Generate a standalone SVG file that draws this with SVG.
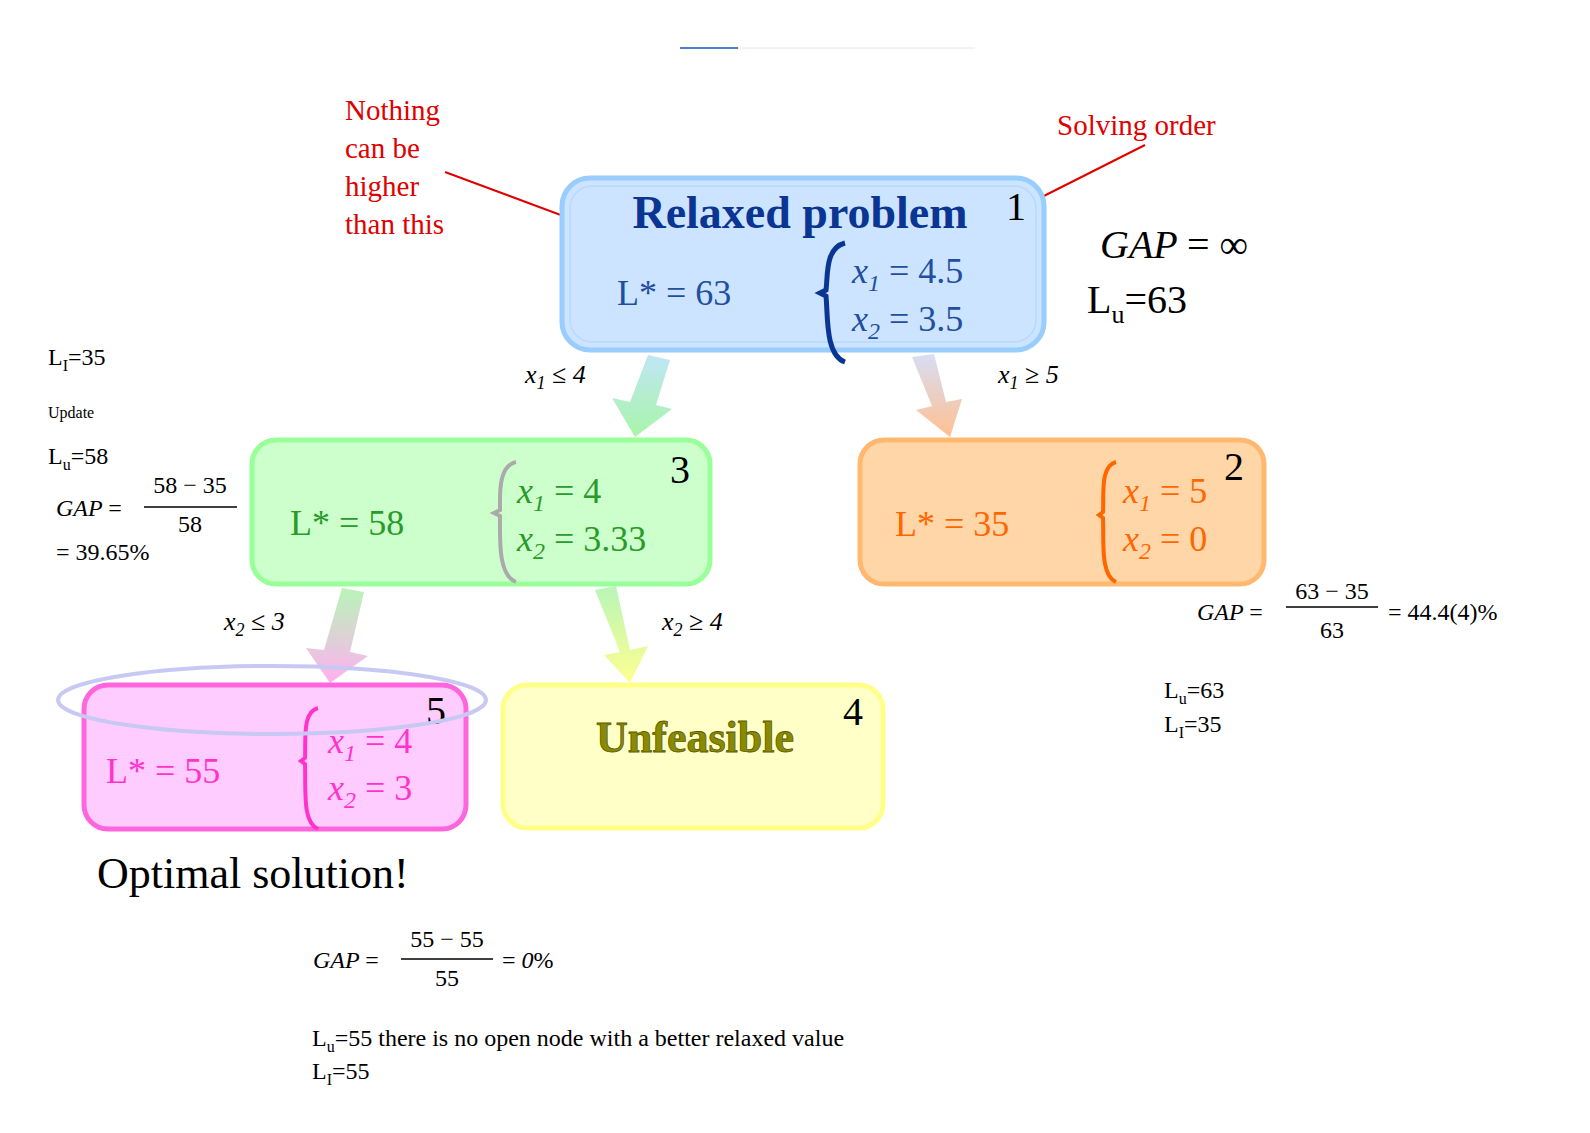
<svg xmlns="http://www.w3.org/2000/svg" width="1590" height="1133" viewBox="0 0 1590 1133">
<style>
.s{font-family:"Liberation Serif","DejaVu Serif",serif}
.m{font-family:"Liberation Serif","DejaVu Serif",serif;font-style:italic}
.box{stroke-width:5}
.red{fill:#e00000;font-size:29px}
.ann{font-size:24px;fill:#000}
</style>
<defs>
<marker id="ah" viewBox="0 0 10 10" refX="9" refY="5" markerWidth="7" markerHeight="7" orient="auto"><path d="M0,0L10,5L0,10z" fill="#e00000"/></marker>
<linearGradient id="g13" x1="0" y1="0" x2="0" y2="1"><stop offset="0" stop-color="#bfe6f5"/><stop offset="1" stop-color="#a8f5a8"/></linearGradient>
<linearGradient id="g12" x1="0" y1="0" x2="0" y2="1"><stop offset="0" stop-color="#d8ddf5"/><stop offset="1" stop-color="#ffc090"/></linearGradient>
<linearGradient id="g35" x1="0" y1="0" x2="0" y2="1"><stop offset="0" stop-color="#b8f5b8"/><stop offset="1" stop-color="#ffb0f0"/></linearGradient>
<linearGradient id="g34" x1="0" y1="0" x2="0" y2="1"><stop offset="0" stop-color="#b8f5b8"/><stop offset="1" stop-color="#ffff90"/></linearGradient>
</defs>
<line x1="680" y1="48" x2="738" y2="48" stroke="#4a7fd0" stroke-width="2"/>
<line x1="738" y1="48" x2="975" y2="48" stroke="#e6e6e6" stroke-width="1"/>

<g id="connectors">
<polygon points="648,355 670,360 656,405 672,409 635,437 612,398 630,402" fill="url(#g13)"/>
<polygon points="912,357 934,354 946,402 962,399 950,437 916,410 932,406" fill="url(#g12)"/>
<polygon points="342,588 364,592 350,652 368,656 330,683 306,648 324,650" fill="url(#g35)"/>
<polygon points="595,590 616,586 630,650 648,646 630,683 604,655 620,652" fill="url(#g34)"/>
<text class="m" x="525" y="383" font-size="26">x<tspan font-size="18" dy="6">1</tspan><tspan dy="-6"> ≤ 4</tspan></text>
<text class="m" x="998" y="383" font-size="26">x<tspan font-size="18" dy="6">1</tspan><tspan dy="-6"> ≥ 5</tspan></text>
<text class="m" x="224" y="630" font-size="26">x<tspan font-size="18" dy="6">2</tspan><tspan dy="-6"> ≤ 3</tspan></text>
<text class="m" x="662" y="630" font-size="26">x<tspan font-size="18" dy="6">2</tspan><tspan dy="-6"> ≥ 4</tspan></text>
<line x1="445" y1="172" x2="703" y2="268" stroke="#e00000" stroke-width="2" marker-end="url(#ah)"/>
<line x1="1145" y1="145" x2="1022" y2="207" stroke="#e00000" stroke-width="2" marker-end="url(#ah)"/>
</g>

<g id="node1">
<rect class="box" x="562" y="178" width="482" height="172" rx="28" fill="#cce4ff" stroke="#99ccff"/>
<rect x="570" y="186" width="466" height="156" rx="22" fill="none" stroke="#b8d8ff" stroke-width="1.5"/>
<text class="s" x="800" y="228" text-anchor="middle" font-size="46" font-weight="bold" fill="#0a3592">Relaxed problem</text>
<text class="s" x="1006" y="220" font-size="40">1</text>
<text class="s" x="617" y="305" font-size="36" fill="#1f4fa0">L*  = 63</text>
<path d="M845,243 C825,248 828,275 826,290 L820,293 L826,296 C828,315 825,355 845,362" fill="none" stroke="#0a3592" stroke-width="5"/>
<text class="m" x="852" y="283" font-size="36" fill="#1f4fa0">x<tspan font-size="24" dy="8">1</tspan><tspan dy="-8" font-style="normal"> = 4.5</tspan></text>
<text class="m" x="852" y="331" font-size="36" fill="#1f4fa0">x<tspan font-size="24" dy="8">2</tspan><tspan dy="-8" font-style="normal"> = 3.5</tspan></text>
</g>

<g id="node3">
<rect class="box" x="252" y="440" width="458" height="144" rx="24" fill="#ccffcc" stroke="#99ff99"/>
<text class="s" x="670" y="483" font-size="40">3</text>
<text class="s" x="290" y="535" font-size="36" fill="#2a9a2a">L*  = 58</text>
<path d="M516,462 C498,466 500,495 500,510 L494,513 L500,516 C500,540 498,575 516,582" fill="none" stroke="#aaaaaa" stroke-width="4"/>
<text class="m" x="517" y="503" font-size="36" fill="#2a9a2a">x<tspan font-size="24" dy="8">1</tspan><tspan dy="-8" font-style="normal"> = 4</tspan></text>
<text class="m" x="517" y="551" font-size="36" fill="#2a9a2a">x<tspan font-size="24" dy="8">2</tspan><tspan dy="-8" font-style="normal"> = 3.33</tspan></text>
</g>

<g id="node2">
<rect class="box" x="860" y="440" width="404" height="144" rx="24" fill="#ffd6a8" stroke="#ffb870"/>
<text class="s" x="1224" y="480" font-size="40">2</text>
<text class="s" x="895" y="536" font-size="36" fill="#ff6600">L*  = 35</text>
<path d="M1116,462 C1100,466 1104,495 1103,512 L1099,515 L1103,518 C1104,540 1100,575 1116,582" fill="none" stroke="#ff6600" stroke-width="4"/>
<text class="m" x="1123" y="503" font-size="36" fill="#ff6600">x<tspan font-size="24" dy="8">1</tspan><tspan dy="-8" font-style="normal"> = 5</tspan></text>
<text class="m" x="1123" y="551" font-size="36" fill="#ff6600">x<tspan font-size="24" dy="8">2</tspan><tspan dy="-8" font-style="normal"> = 0</tspan></text>
</g>

<g id="node5">
<rect class="box" x="84" y="685" width="382" height="144" rx="24" fill="#ffccff" stroke="#ff66dd"/>
<text class="s" x="426" y="724" font-size="40">5</text>
<text class="s" x="106" y="783" font-size="36" fill="#ff33cc">L*  = 55</text>
<path d="M318,708 C302,712 306,740 305,758 L301,761 L305,764 C306,790 302,822 318,829" fill="none" stroke="#ff33cc" stroke-width="4"/>
<text class="m" x="328" y="753" font-size="36" fill="#ff33cc">x<tspan font-size="24" dy="8">1</tspan><tspan dy="-8" font-style="normal"> = 4</tspan></text>
<text class="m" x="328" y="800" font-size="36" fill="#ff33cc">x<tspan font-size="24" dy="8">2</tspan><tspan dy="-8" font-style="normal"> = 3</tspan></text>
<ellipse cx="272" cy="700" rx="214" ry="34" fill="none" stroke="#c8c8f5" stroke-width="4"/>
</g>

<g id="node4">
<rect class="box" x="503" y="685" width="380" height="143" rx="24" fill="#ffffc8" stroke="#ffff88"/>
<text class="s" x="843" y="725" font-size="40">4</text>
<text class="s" x="695" y="752" text-anchor="middle" font-size="44" font-weight="bold" fill="#8a8a00" stroke="#5a5a00" stroke-width="0.8">Unfeasible</text>
</g>

<g id="annotations">
<text class="s red" x="345" y="120">Nothing</text>
<text class="s red" x="345" y="158">can be</text>
<text class="s red" x="345" y="196">higher</text>
<text class="s red" x="345" y="234">than this</text>
<text class="s red" x="1057" y="135">Solving order</text>
<text class="m" x="1100" y="258" font-size="40">GAP <tspan font-style="normal">= ∞</tspan></text>
<text class="s" x="1087" y="313" font-size="40">L<tspan font-size="26" dy="10">u</tspan><tspan dy="-10">=63</tspan></text>

<text class="s ann" x="48" y="365">L<tspan font-size="16" dy="6">I</tspan><tspan dy="-6">=35</tspan></text>
<text class="s" x="48" y="418" font-size="16">Update</text>
<text class="s ann" x="48" y="464">L<tspan font-size="16" dy="6">u</tspan><tspan dy="-6">=58</tspan></text>
<text class="m ann" x="56" y="516">GAP <tspan font-style="normal">=</tspan></text>
<text class="s ann" x="190" y="493" text-anchor="middle">58 − 35</text>
<line x1="144" y1="507" x2="237" y2="507" stroke="#000" stroke-width="1.5"/>
<text class="s ann" x="190" y="532" text-anchor="middle">58</text>
<text class="s ann" x="56" y="560">= 39.65%</text>

<text class="m ann" x="1197" y="620">GAP <tspan font-style="normal">=</tspan></text>
<text class="s ann" x="1332" y="599" text-anchor="middle">63 − 35</text>
<line x1="1286" y1="607" x2="1378" y2="607" stroke="#000" stroke-width="1.5"/>
<text class="s ann" x="1332" y="638" text-anchor="middle">63</text>
<text class="s ann" x="1388" y="620">= 44.4(4)%</text>
<text class="s ann" x="1164" y="698">L<tspan font-size="16" dy="6">u</tspan><tspan dy="-6">=63</tspan></text>
<text class="s ann" x="1164" y="732">L<tspan font-size="16" dy="6">I</tspan><tspan dy="-6">=35</tspan></text>

<text class="s" x="97" y="888" font-size="44">Optimal solution!</text>
<text class="m ann" x="313" y="968">GAP <tspan font-style="normal">=</tspan></text>
<text class="s ann" x="447" y="947" text-anchor="middle">55 − 55</text>
<line x1="401" y1="959" x2="493" y2="959" stroke="#000" stroke-width="1.5"/>
<text class="s ann" x="447" y="986" text-anchor="middle">55</text>
<text class="s ann" x="502" y="968">= <tspan font-style="italic">0</tspan>%</text>
<text class="s ann" x="312" y="1046">L<tspan font-size="16" dy="6">u</tspan><tspan dy="-6">=55 there is no open node with a better relaxed value</tspan></text>
<text class="s ann" x="312" y="1079">L<tspan font-size="16" dy="6">I</tspan><tspan dy="-6">=55</tspan></text>
</g>
</svg>
